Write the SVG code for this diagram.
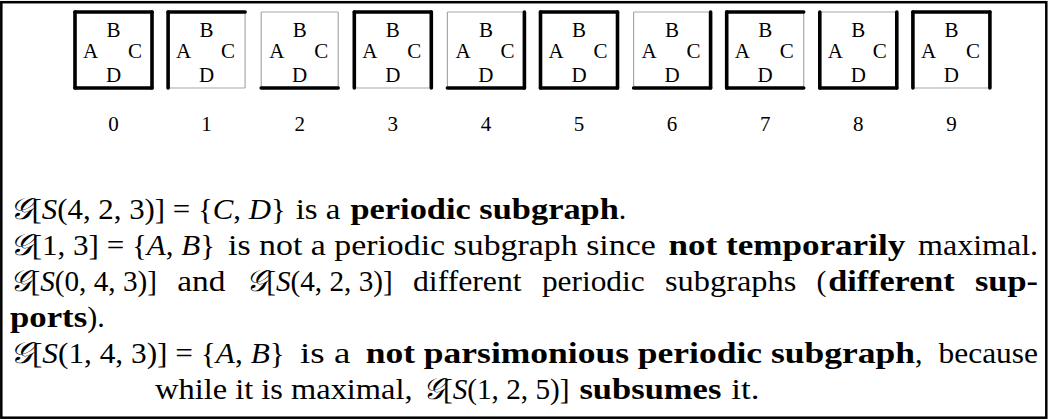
<svg xmlns="http://www.w3.org/2000/svg" width="1049" height="419" viewBox="0 0 1049 419">
<style>
.thk{stroke:#000;stroke-width:3.6;stroke-linecap:round;fill:none}
.thn{stroke:#a8a8a8;stroke-width:1.2;fill:none}
.bl{font-family:"Liberation Serif",serif;font-size:21px;fill:#000}
.t{font-family:"Liberation Serif",serif;font-size:30px;fill:#000}
.b{font-weight:bold}
.i{font-style:italic}
</style>
<rect x="1.3" y="2.2" width="1045" height="415.5" fill="#fff" stroke="#000" stroke-width="2.5"/>
<defs>
<g id="lbl">
<text class="bl" x="38.5" y="25" text-anchor="middle">B</text><text class="bl" x="8" y="46">A</text><text class="bl" x="53" y="46">C</text><text class="bl" x="38.5" y="70" text-anchor="middle">D</text>
</g>
</defs>
<g id="box0" transform="translate(75,12)">
<line class="thk" x1="0" y1="0" x2="77" y2="0"/><line class="thk" x1="77" y1="0" x2="77" y2="76"/><line class="thk" x1="0" y1="76" x2="77" y2="76"/><line class="thk" x1="0" y1="0" x2="0" y2="76"/>
<use href="#lbl"/><text class="bl" x="38.5" y="119" text-anchor="middle">0</text></g>
<g id="box1" transform="translate(168.1,12)">
<line class="thn" x1="77" y1="0" x2="77" y2="76"/><line class="thn" x1="0" y1="76" x2="77" y2="76"/><line class="thk" x1="0" y1="0" x2="77" y2="0"/><line class="thk" x1="0" y1="0" x2="0" y2="76"/>
<use href="#lbl"/><text class="bl" x="38.5" y="119" text-anchor="middle">1</text></g>
<g id="box2" transform="translate(261.2,12)">
<line class="thn" x1="0" y1="0" x2="77" y2="0"/><line class="thn" x1="77" y1="0" x2="77" y2="76"/><line class="thn" x1="0" y1="0" x2="0" y2="76"/><line class="thk" x1="0" y1="76" x2="77" y2="76"/>
<use href="#lbl"/><text class="bl" x="38.5" y="119" text-anchor="middle">2</text></g>
<g id="box3" transform="translate(354.3,12)">
<line class="thn" x1="0" y1="76" x2="77" y2="76"/><line class="thk" x1="0" y1="0" x2="77" y2="0"/><line class="thk" x1="77" y1="0" x2="77" y2="76"/><line class="thk" x1="0" y1="0" x2="0" y2="76"/>
<use href="#lbl"/><text class="bl" x="38.5" y="119" text-anchor="middle">3</text></g>
<g id="box4" transform="translate(447.4,12)">
<line class="thn" x1="0" y1="0" x2="77" y2="0"/><line class="thn" x1="0" y1="0" x2="0" y2="76"/><line class="thk" x1="77" y1="0" x2="77" y2="76"/><line class="thk" x1="0" y1="76" x2="77" y2="76"/>
<use href="#lbl"/><text class="bl" x="38.5" y="119" text-anchor="middle">4</text></g>
<g id="box5" transform="translate(540.5,12)">
<line class="thk" x1="0" y1="0" x2="77" y2="0"/><line class="thk" x1="77" y1="0" x2="77" y2="76"/><line class="thk" x1="0" y1="76" x2="77" y2="76"/><line class="thk" x1="0" y1="0" x2="0" y2="76"/>
<use href="#lbl"/><text class="bl" x="38.5" y="119" text-anchor="middle">5</text></g>
<g id="box6" transform="translate(633.6,12)">
<line class="thn" x1="0" y1="0" x2="77" y2="0"/><line class="thn" x1="0" y1="0" x2="0" y2="76"/><line class="thk" x1="77" y1="0" x2="77" y2="76"/><line class="thk" x1="0" y1="76" x2="77" y2="76"/>
<use href="#lbl"/><text class="bl" x="38.5" y="119" text-anchor="middle">6</text></g>
<g id="box7" transform="translate(726.7,12)">
<line class="thn" x1="77" y1="0" x2="77" y2="76"/><line class="thk" x1="0" y1="0" x2="77" y2="0"/><line class="thk" x1="0" y1="76" x2="77" y2="76"/><line class="thk" x1="0" y1="0" x2="0" y2="76"/>
<use href="#lbl"/><text class="bl" x="38.5" y="119" text-anchor="middle">7</text></g>
<g id="box8" transform="translate(819.8,12)">
<line class="thn" x1="0" y1="0" x2="77" y2="0"/><line class="thk" x1="77" y1="0" x2="77" y2="76"/><line class="thk" x1="0" y1="76" x2="77" y2="76"/><line class="thk" x1="0" y1="0" x2="0" y2="76"/>
<use href="#lbl"/><text class="bl" x="38.5" y="119" text-anchor="middle">8</text></g>
<g id="box9" transform="translate(912.9,12)">
<line class="thn" x1="0" y1="76" x2="77" y2="76"/><line class="thk" x1="0" y1="0" x2="77" y2="0"/><line class="thk" x1="77" y1="0" x2="77" y2="76"/><line class="thk" x1="0" y1="0" x2="0" y2="76"/>
<use href="#lbl"/><text class="bl" x="38.5" y="119" text-anchor="middle">9</text></g>
<g id="connectors"/>
<g id="caption" class="t">
<text class="t" x="10" y="219" textLength="275.8" lengthAdjust="spacingAndGlyphs"><tspan class="i">𝒢</tspan>[<tspan class="i">S</tspan>(4, 2, 3)] = {<tspan class="i">C</tspan>, <tspan class="i">D</tspan>}</text>
<text class="t" x="295.7" y="219" textLength="44.8" lengthAdjust="spacingAndGlyphs">is a</text>
<text class="t b" x="350.5" y="219" textLength="268.3" lengthAdjust="spacingAndGlyphs">periodic subgraph</text>
<text class="t" x="618.8" y="219">.</text>

<text class="t" x="10" y="255" textLength="205.1" lengthAdjust="spacingAndGlyphs"><tspan class="i">𝒢</tspan>[1, 3] = {<tspan class="i">A</tspan>, <tspan class="i">B</tspan>}</text>
<text class="t" x="228" y="255" textLength="427.7" lengthAdjust="spacingAndGlyphs">is not a periodic subgraph since</text>
<text class="t b" x="668.5" y="255" textLength="236.7" lengthAdjust="spacingAndGlyphs">not temporarily</text>
<text class="t" x="918.1" y="255" textLength="120" lengthAdjust="spacingAndGlyphs">maximal.</text>

<text class="t" x="10" y="291" textLength="147" lengthAdjust="spacingAndGlyphs"><tspan class="i">𝒢</tspan>[<tspan class="i">S</tspan>(0, 4, 3)]</text>
<text class="t" x="177.3" y="291" textLength="48.1" lengthAdjust="spacingAndGlyphs">and</text>
<text class="t" x="245.7" y="291" textLength="147" lengthAdjust="spacingAndGlyphs"><tspan class="i">𝒢</tspan>[<tspan class="i">S</tspan>(4, 2, 3)]</text>
<text class="t" x="413" y="291" textLength="108.6" lengthAdjust="spacingAndGlyphs">different</text>
<text class="t" x="541.9" y="291" textLength="102.8" lengthAdjust="spacingAndGlyphs">periodic</text>
<text class="t" x="665" y="291" textLength="131.3" lengthAdjust="spacingAndGlyphs">subgraphs</text>
<text class="t" x="816.6" y="291">(</text>
<text class="t b" x="828.2" y="291" textLength="126.5" lengthAdjust="spacingAndGlyphs">different</text>
<text class="t b" x="975" y="291" textLength="63" lengthAdjust="spacingAndGlyphs">sup-</text>

<text class="t b" x="10" y="327" textLength="77.2" lengthAdjust="spacingAndGlyphs">ports</text>
<text class="t" x="87.2" y="327">).</text>

<text class="t" x="10" y="363" textLength="274.8" lengthAdjust="spacingAndGlyphs"><tspan class="i">𝒢</tspan>[<tspan class="i">S</tspan>(1, 4, 3)] = {<tspan class="i">A</tspan>, <tspan class="i">B</tspan>}</text>
<text class="t" x="300.1" y="363" textLength="50.3" lengthAdjust="spacingAndGlyphs">is a</text>
<text class="t b" x="365.7" y="363" textLength="549.3" lengthAdjust="spacingAndGlyphs">not parsimonious periodic subgraph</text>
<text class="t" x="915" y="363">,</text>
<text class="t" x="938.6" y="363" textLength="99.4" lengthAdjust="spacingAndGlyphs">because</text>

<text class="t" x="155" y="399" textLength="257.6" lengthAdjust="spacingAndGlyphs">while it is maximal,</text>
<text class="t" x="422.5" y="399" textLength="147" lengthAdjust="spacingAndGlyphs"><tspan class="i">𝒢</tspan>[<tspan class="i">S</tspan>(1, 2, 5)]</text>
<text class="t b" x="579.4" y="399" textLength="142" lengthAdjust="spacingAndGlyphs">subsumes</text>
<text class="t" x="731.3" y="399" textLength="28.2" lengthAdjust="spacingAndGlyphs">it.</text>
</g>
</svg>
